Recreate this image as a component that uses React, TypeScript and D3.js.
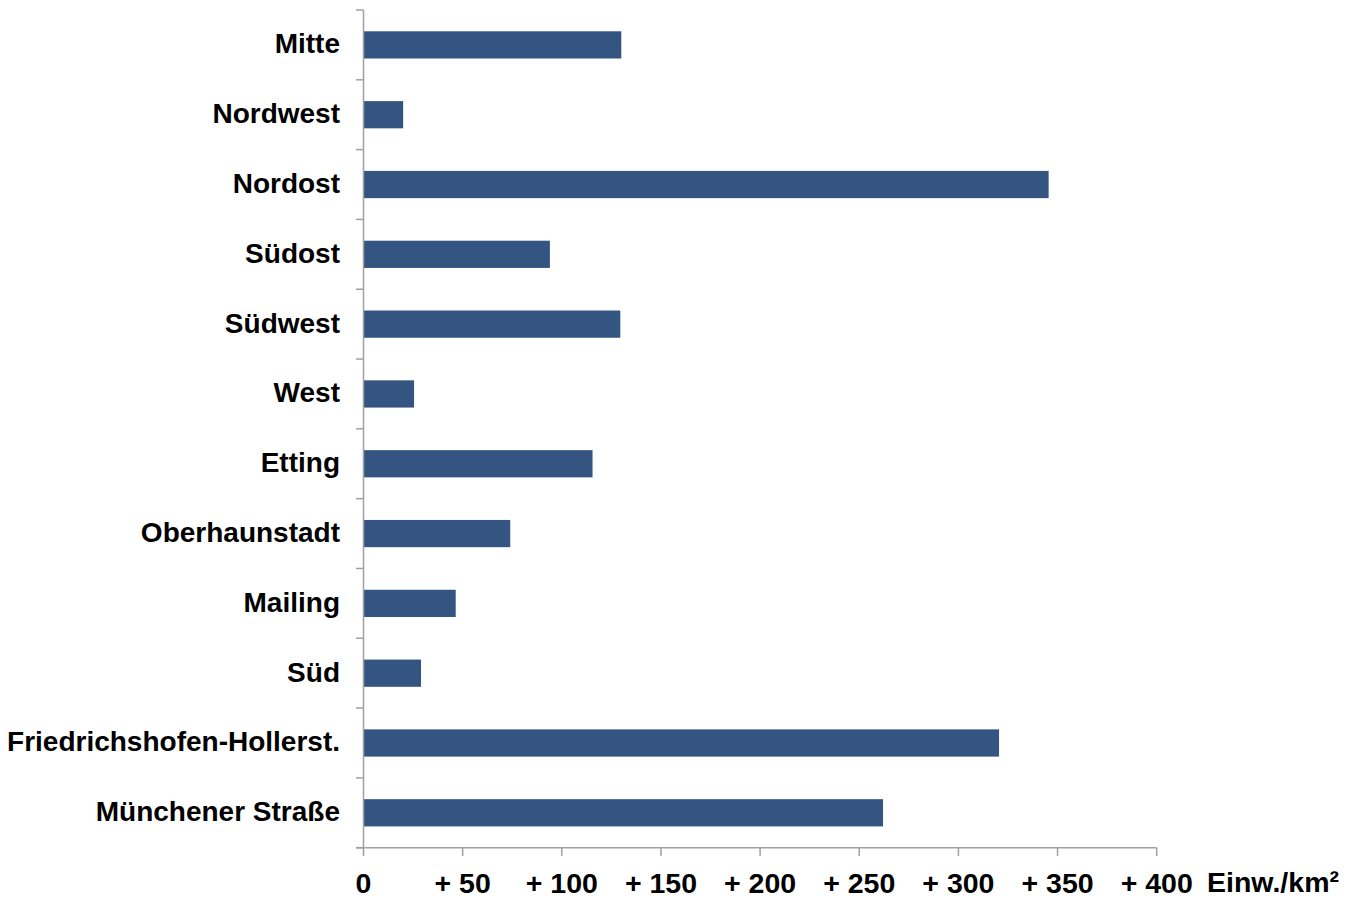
import React from "react";
import * as d3 from "d3";

const categories = [
  "Mitte",
  "Nordwest",
  "Nordost",
  "Südost",
  "Südwest",
  "West",
  "Etting",
  "Oberhaunstadt",
  "Mailing",
  "Süd",
  "Friedrichshofen-Hollerst.",
  "Münchener Straße",
];
const values = [130, 20, 345.5, 94, 129.5, 25.5, 115.5, 74, 46.5, 29, 320.5, 262];
const xTicks = [0, 50, 100, 150, 200, 250, 300, 350, 400];
const xTickLabels = ["0", "+ 50", "+ 100", "+ 150", "+ 200", "+ 250", "+ 300", "+ 350", "+ 400"];
const unitLabel = "Einw./km²";

export default function App() {
  const W = 1368;
  const H = 899;
  const x0 = 363.5;
  const x1 = 1156.7;
  const yTop = 10;
  const yBot = 847.7;
  const x = d3.scaleLinear().domain([0, 400]).range([x0, x1]);
  const y = d3.scaleBand<string>().domain(categories).range([yTop, yBot]).paddingInner(0.61).paddingOuter(0.305);
  const yEdges = d3.range(categories.length + 1).map((i) => yTop + (i * (yBot - yTop)) / categories.length);
  const axisColor = "#a0a0a0";
  const font = "'Liberation Sans', Arial, sans-serif";
  return (
    <svg width={W} height={H} style={{ position: "absolute", left: 0, top: 0, background: "#fff" }} fontFamily={font}>
      {categories.map((c, i) => (
        <rect key={c} x={x(0)} y={y(c)} width={x(values[i]) - x(0)} height={y.bandwidth()} fill="#345581" />
      ))}
      {/* y axis */}
      <line x1={x0} x2={x0} y1={yTop} y2={yBot} stroke={axisColor} strokeWidth={1.5} />
      {yEdges.map((e, i) => (
        <line key={i} x1={356} x2={x0} y1={e} y2={e} stroke={axisColor} strokeWidth={1.5} />
      ))}
      {categories.map((c) => (
        <text key={c} x={340} y={y(c)! + y.bandwidth() / 2 + 8.5} textAnchor="end" fontSize={28} fontWeight="bold" fill="#000">
          {c}
        </text>
      ))}
      {/* x axis */}
      <line x1={356} x2={x1} y1={yBot} y2={yBot} stroke={axisColor} strokeWidth={1.5} />
      {xTicks.map((t, i) => (
        <g key={t}>
          <line x1={x(t)} x2={x(t)} y1={yBot} y2={856} stroke={axisColor} strokeWidth={1.5} />
          <text x={x(t)} y={893} textAnchor="middle" fontSize={28.5} fontWeight="bold" fill="#000">
            {xTickLabels[i]}
          </text>
        </g>
      ))}
      <text x={1207} y={892} fontSize={28.5} fontWeight="bold" fill="#000">
        {unitLabel}
      </text>
    </svg>
  );
}
